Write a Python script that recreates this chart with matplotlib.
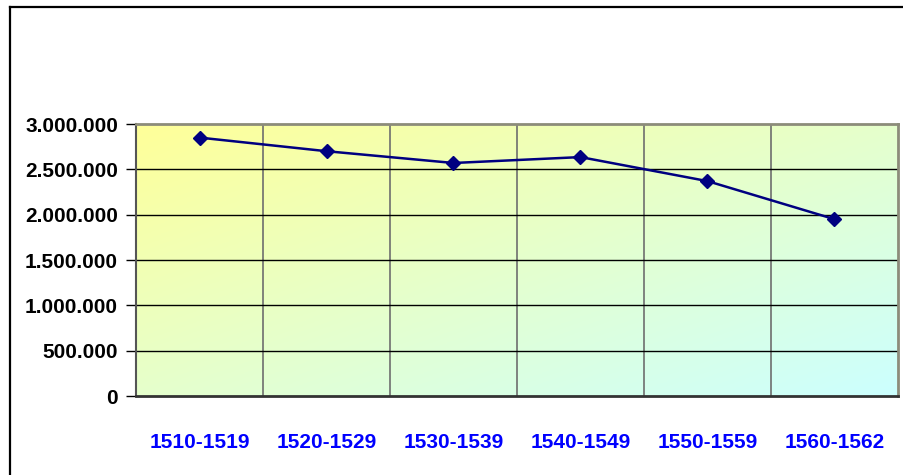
import numpy as np
import matplotlib
matplotlib.use("Agg")
import matplotlib.pyplot as plt
from matplotlib.ticker import FuncFormatter
from matplotlib.lines import Line2D
from matplotlib.colors import LinearSegmentedColormap

# data
periods = ["1510-1519", "1520-1529", "1530-1539", "1540-1549", "1550-1559", "1560-1562"]
values = [2850000, 2700000, 2570000, 2635000, 2370000, 1950000]
yticks = [0, 500000, 1000000, 1500000, 2000000, 2500000, 3000000]

W, H = 904, 475
fig = plt.figure(figsize=(W / 100, H / 100), dpi=100)
ax = fig.add_axes([136 / W, (H - 396) / H, (898 - 136) / W, (396 - 124) / H])

fnt = ["Liberation Sans", "DejaVu Sans"]

# diagonal gradient, yellow top-left to light cyan bottom-right
cmap = LinearSegmentedColormap.from_list("bg", ["#ffff99", "#ccffff"])
gx, gy = np.meshgrid(np.linspace(0, 1, 200), np.linspace(0, 1, 200))
grad = (gx + gy) / 2
ax.imshow(grad, extent=[0, 1, 0, 1], transform=ax.transAxes, cmap=cmap,
          aspect="auto", zorder=0, origin="upper")

x = np.arange(len(periods))
ax.set_xlim(-0.5, len(periods) - 0.5)
ax.set_ylim(0, 3000000)

for b in np.arange(0.5, len(periods) - 0.5, 1):
    ax.axvline(b, color="#6e6e6e", lw=1.2, zorder=1)
for t in yticks[1:-1]:
    ax.axhline(t, color="black", lw=1.0, zorder=1)

ax.plot(x, values, color="#000080", lw=1.8, marker="D", markersize=7,
        markerfacecolor="#000080", markeredgecolor="#000080", zorder=3)

ax.set_yticks(yticks)
ax.yaxis.set_major_formatter(FuncFormatter(lambda v, p: f"{int(v):,}".replace(",", ".")))
ax.set_xticks(x)
ax.set_xticklabels(periods)
ax.tick_params(axis="y", length=7, width=1, color="black", pad=6, labelsize=15)
ax.tick_params(axis="x", length=0, pad=27, labelsize=15, labelcolor="#0000ff")
for lab in ax.get_yticklabels() + ax.get_xticklabels():
    lab.set_fontfamily(fnt)
    lab.set_fontweight("bold")

for s in ["top", "right"]:
    ax.spines[s].set_color("#8c8c7a")
    ax.spines[s].set_linewidth(2)
ax.spines["left"].set_color("#555555")
ax.spines["left"].set_linewidth(1.5)
ax.spines["bottom"].set_color("#333333")
ax.spines["bottom"].set_linewidth(2)

# outer frame of the chart area (runs off the right and bottom edges)
fig.add_artist(Line2D([9.5 / W, 9.5 / W], [0, 1 - 7 / H], color="black", lw=1.6))
fig.add_artist(Line2D([9.5 / W, 1], [1 - 7 / H, 1 - 7 / H], color="black", lw=1.6))

fig.savefig("out.png", dpi=100)
